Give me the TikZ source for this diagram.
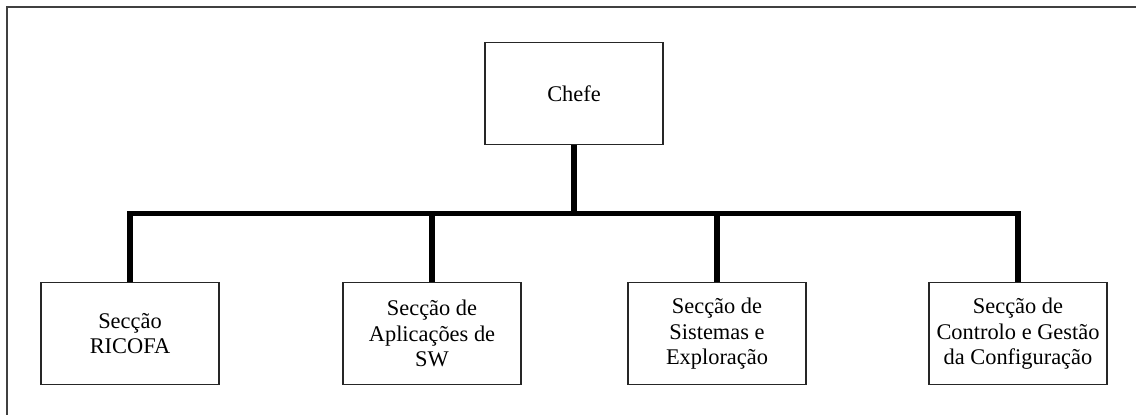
\documentclass[tikz,border=0pt]{standalone}
\usepackage{fontspec}
\setmainfont{Liberation Serif}
\begin{document}
\begin{tikzpicture}[x=1pt,y=-1pt,
  orgbox/.style={draw=black!85, line width=1.3pt, fill=white, minimum width=178pt, minimum height=102pt, inner sep=0pt, align=center, font=\fontsize{22.4}{25.5}\selectfont, anchor=north},
  conn/.style={line width=5.5pt, black, line join=miter}]
\useasboundingbox (0,0) rectangle (1136,415);
\fill[white] (0,0) rectangle (1136,415);
\draw[black!75, line width=2pt] (7,420) -- (7,7) -- (1142,7);
\coordinate (bus) at (574,213.5);
\node[orgbox] (chefe) at (574,42) {Chefe};
\node[orgbox] (s1) at (130,282) {Secção\\RICOFA};
\node[orgbox] (s2) at (432,282) {Secção de\\Aplicações de\\SW};
\node[orgbox] (s3) at (717,282) {Secção de\\Sistemas e\\Exploração};
\node[orgbox] (s4) at (1018,282) {Secção de\\Controlo e Gestão\\da Configuração};
\draw[conn] (s1.north) -- (s1.north |- bus) -- (s4.north |- bus) -- (s4.north);
\draw[conn] (chefe.south) -- (chefe.south |- bus);
\draw[conn] (s2.north) -- (s2.north |- bus);
\draw[conn] (s3.north) -- (s3.north |- bus);
\end{tikzpicture}
\end{document}
